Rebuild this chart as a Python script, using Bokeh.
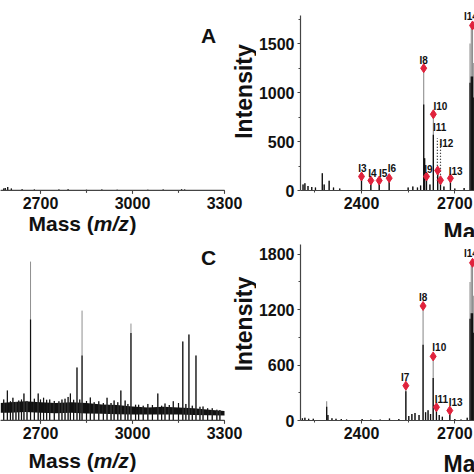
from bokeh.plotting import figure
from bokeh.layouts import column, row
from bokeh.models import Range1d, FixedTicker, Label, LabelSet, ColumnDataSource, BoxAnnotation
from bokeh.core.properties import value
from bokeh.embed import file_html
from bokeh.resources import INLINE

FONT = "Liberation Sans"
GREY = "#8f8f8f"
BLACK = "#111111"
RED = "#e0223c"
AXC = "#444444"

# ---------------- data ----------------
# top-left fragment (flat spectrum)
tl_mass = [2580, 2585, 2593, 2605, 2640, 2680, 2760, 2790, 2850, 2900, 2950, 3050, 3100, 3160, 3170]
tl_int = [20, 25, 35, 20, 12, 10, 10, 12, 8, 10, 8, 8, 10, 14, 10]

# top-right panel (A)
tr_mass = [2212, 2218, 2228, 2240, 2252, 2274, 2280, 2296, 2310, 2330, 2400, 2430, 2457, 2489,
           2550, 2565, 2580, 2590, 2600, 2603, 2609, 2620, 2631, 2645, 2654, 2665, 2686, 2700,
           2730, 2749, 2753, 2757, 2761]
tr_top = [60, 74, 45, 35, 30, 176, 60, 100, 30, 20, 143, 102, 102, 126,
          30, 40, 30, 50, 1248, 330, 143, 60, 778, 204, 105, 40, 125, 20,
          25, 1500, 1684, 1660, 1300]
tr_core = [60, 74, 45, 35, 30, 176, 60, 100, 30, 20, 143, 102, 102, 126,
           30, 40, 30, 50, 877, 330, 143, 60, 568, 204, 105, 40, 125, 20,
           25, 1100, 1163, 1163, 950]
tr_ion = ["I3", "I4", "I5", "I6", "I8", "I9", "I10", "I11", "I12", "I13", "I14"]
tr_ion_mass = [2400, 2430, 2457, 2489, 2600, 2609, 2631, 2645, 2654, 2686, 2757]
tr_ion_int = [143, 102, 102, 126, 1248, 143, 778, 204, 105, 125, 1684]
tr_lab_mass = [2403, 2435, 2470, 2498, 2600, 2615, 2654, 2651, 2673, 2703, 2752]
tr_lab_int = [227, 176, 176, 227, 1323, 211, 857, 643, 482, 194, 1775]
tr_dot_mass = [2644, 2654]
tr_dot_lo = [100, 100]
tr_dot_hi = [533, 500]

# bottom-left fragment (noisy spectrum)
bl_band_mass = [2570, 2600, 2650, 2700, 2750, 2800, 2850, 2900, 2950, 3000, 3050, 3100, 3150, 3200, 3250, 3300]
bl_band_hi = [100, 105, 110, 105, 100, 105, 100, 92, 88, 80, 75, 78, 75, 70, 62, 55]
bl_band_lo = [45, 45, 48, 45, 42, 45, 40, 38, 36, 35, 35, 35, 35, 32, 30, 28]
bl_mass = [2580, 2592, 2602, 2610, 2620, 2629, 2638, 2646, 2656, 2667.5, 2680, 2692.5, 2700, 2710,
           2720, 2730, 2745, 2760, 2770, 2780, 2790, 2797.5, 2808, 2819, 2828, 2835.5, 2850,
           2862.5, 2875, 2890, 2905, 2917, 2930, 2940, 2952, 2962, 2976, 2985, 2995, 3010,
           3020, 3035, 3050, 3065, 3082.5, 3095, 3106, 3120, 3133, 3150, 3164, 3174, 3184,
           3195, 3207, 3220, 3230, 3245, 3260, 3275, 3285]
bl_top = [120, 171, 110, 130, 105, 114, 120, 154, 112, 908, 125, 154, 120, 130,
          118, 120, 112, 110, 120, 125, 135, 154, 118, 303, 120, 628, 112,
          131, 105, 110, 100, 130, 100, 115, 105, 171, 114, 95, 554, 90,
          90, 85, 95, 88, 154, 85, 97, 88, 110, 100, 451, 95, 491,
          85, 371, 78, 80, 70, 70, 62, 60]
bl_core = [120, 171, 110, 130, 105, 114, 120, 154, 112, 577, 125, 154, 120, 130,
           118, 120, 112, 110, 120, 125, 135, 154, 118, 303, 120, 371, 112,
           131, 105, 110, 100, 130, 100, 115, 105, 171, 114, 95, 500, 90,
           90, 85, 95, 88, 154, 85, 97, 88, 110, 100, 451, 95, 491,
           85, 371, 78, 80, 70, 70, 62, 60]

# bottom-right panel (C)
br_mass = [2210, 2218, 2230, 2245, 2288, 2292, 2305, 2318, 2335, 2352, 2402, 2430, 2460, 2490,
           2520, 2542.6, 2552, 2562, 2572, 2585, 2598, 2606, 2614, 2622, 2630.5, 2641, 2650,
           2660, 2684, 2700, 2720, 2740, 2749, 2753, 2757, 2761]
br_top = [25, 30, 20, 18, 208, 60, 25, 20, 15, 12, 15, 12, 10, 22,
          15, 377, 50, 70, 80, 60, 1240, 90, 110, 70, 694, 144, 60,
          40, 108, 15, 10, 30, 1500, 1707, 1680, 1350]
br_core = [25, 30, 20, 18, 150, 60, 25, 20, 15, 12, 15, 12, 10, 22,
           15, 316, 50, 70, 80, 60, 819, 90, 110, 70, 460, 144, 60,
           40, 80, 15, 10, 30, 1100, 1161, 1161, 950]
br_ion = ["I7", "I8", "I10", "I11", "I13", "I14"]
br_ion_mass = [2542.6, 2598, 2630.5, 2641, 2684, 2757]
br_ion_int = [377, 1240, 694, 144, 108, 1707]
br_lab_mass = [2540.5, 2598.3, 2650, 2657, 2703, 2752]
br_lab_int = [470, 1330, 795, 228, 192, 1807]

left_ticks = [2700, 3000, 3300]
left_minor = [2850, 3150]
right_ticks = [2400, 2700]
right_minor = [2250, 2550]
tr_yticks = [0, 500, 1000, 1500]
tr_yminor = [250, 750, 1250, 1750]
br_yticks = [0, 600, 1200, 1800]
br_yminor = [300, 900, 1500]

# ---------------- geometry (pixels) ----------------
LW, RW, H = 256, 218, 237
L_PX = 184 / 600.0                 # px per Da, left fragments
L_X0 = 2700 - 40 / L_PX            # mass at left canvas edge
L_XMAX = max(left_ticks)
R_PX = 93.3 / 300.0                # px per Da, right panels
R_AXL = 44                         # y-axis position inside right canvases (px)
R_X0 = 2400 - (105 - R_AXL) / R_PX # mass at the y axis
R_XMAX = R_X0 + (RW - R_AXL) / R_PX

TOP_AX, BOT_AX = 190, 183          # x-axis rows (px from canvas top)
TOP_U = 500 / 49.0                 # intensity units per px, top row
BR_U = 1800 / 166.3                # intensity units per px, bottom-right
BL_U = 1000 / 175.0                # units per px, bottom-left


def yr_for(ax, u):
    return (-(H - ax) * u, ax * u)


def ydata(ax, u, cy):
    return (ax - cy) * u


def style_axis(ax, ticks, minor, loc, bounds):
    ax.ticker = FixedTicker(ticks=ticks, minor_ticks=minor)
    ax.fixed_location = loc
    ax.bounds = bounds
    ax.axis_line_color = AXC
    ax.axis_line_width = 1.2
    ax.major_tick_line_color = AXC
    ax.minor_tick_line_color = AXC
    ax.major_tick_in = 0
    ax.major_tick_out = 3
    ax.minor_tick_in = 0
    ax.minor_tick_out = 2
    ax.major_label_standoff = 3
    ax.major_label_text_font = FONT
    ax.major_label_text_font_style = "bold"
    ax.major_label_text_font_size = "16px"
    ax.major_label_text_color = BLACK


def axis_rule(p, x0, x1, ticks, minor, u, px):
    # dark baseline along the mass axis plus small tick marks, drawn as box annotations
    p.add_layout(BoxAnnotation(left=x0, right=x1, bottom=-0.6 * u, top=0.8 * u,
                               fill_color=AXC, fill_alpha=1.0, line_color=None))
    half = 0.55 / px
    for t in ticks:
        p.add_layout(BoxAnnotation(left=t - half, right=t + half, bottom=-3.2 * u, top=0,
                                   fill_color=AXC, fill_alpha=1.0, line_color=None))
    for t in minor:
        p.add_layout(BoxAnnotation(left=t - half, right=t + half, bottom=-2.2 * u, top=0,
                                   fill_color=AXC, fill_alpha=1.0, line_color=None))


def title_axis(ax, text, loc, bounds, size):
    # axis used only for its (rotated) label
    ax.ticker = FixedTicker(ticks=[], minor_ticks=[])
    ax.fixed_location = loc
    ax.bounds = bounds
    ax.axis_line_alpha = 0
    ax.major_tick_line_alpha = 0
    ax.minor_tick_line_alpha = 0
    ax.axis_label = text
    ax.axis_label_standoff = 0
    ax.axis_label_text_font = FONT
    ax.axis_label_text_font_style = "bold"
    ax.axis_label_text_font_size = f"{size}px"
    ax.axis_label_text_color = BLACK


def make_fig(w, xr, yr):
    p = figure(width=w, height=H, x_range=Range1d(*xr), y_range=Range1d(*yr),
               output_backend="svg", toolbar_location=None,
               min_border=0, min_border_left=0, min_border_right=0,
               min_border_top=0, min_border_bottom=0)
    p.xgrid.visible = False
    p.ygrid.visible = False
    p.outline_line_color = None
    p.background_fill_color = "white"
    p.border_fill_color = "white"
    return p


def add_label(p, x, y, text, size, style="bold", align="left", baseline="alphabetic"):
    p.add_layout(Label(x=x, y=y, x_units="screen", y_units="screen", text=text,
                       text_font=FONT, text_font_style=style, text_font_size=f"{size}px",
                       text_color=BLACK, text_align=align, text_baseline=baseline))


def mass_label(p, x0, cy, size):
    parts = [("Mass (", "bold", 3.112), ("m/z", "bold italic", 1.70), (")", "bold", 0.333)]
    x = x0
    for txt, st, em in parts:
        add_label(p, x, H - cy, txt, size, style=st)
        x += em * size


def peaks(p, mass, top, core, w=1.1):
    src = ColumnDataSource(dict(x=mass, top=top, core=core, zero=[0] * len(mass)))
    p.segment(x0="x", y0="zero", x1="x", y1="top", source=src, line_color=GREY, line_width=w)
    p.segment(x0="x", y0="zero", x1="x", y1="core", source=src, line_color=BLACK, line_width=w + 0.2)


def ions(p, names, imass, iint, lmass, lint):
    p.scatter(imass, iint, marker="diamond", size=9, color=RED)
    src = ColumnDataSource(dict(x=lmass, y=lint, t=names))
    p.add_layout(LabelSet(x="x", y="y", text="t", source=src, text_font=value(FONT),
                          text_font_style="bold", text_font_size=value("10px"),
                          text_color=BLACK, text_align="center", text_baseline="middle"))


L_XR = (L_X0, L_X0 + LW / L_PX)
R_XR = (R_X0 - R_AXL / R_PX, R_X0 - R_AXL / R_PX + RW / R_PX)

# ---------------- top-left ----------------
tl = make_fig(LW, L_XR, yr_for(TOP_AX, TOP_U))
style_axis(tl.xaxis[0], left_ticks, left_minor, 0, (L_X0 + 1, L_XMAX))
title_axis(tl.yaxis[0], "Intensity", L_XR[1],
           (ydata(TOP_AX, TOP_U, 140), ydata(TOP_AX, TOP_U, 42)), 23)
axis_rule(tl, L_X0, L_XMAX, left_ticks, left_minor, TOP_U, L_PX)
peaks(tl, tl_mass, tl_int, tl_int)
add_label(tl, 208, H - 35, "A", 21, align="center", baseline="middle")
mass_label(tl, 28, 223, 21)

# ---------------- top-right ----------------
tr = make_fig(RW, R_XR, yr_for(TOP_AX, TOP_U))
style_axis(tr.xaxis[0], right_ticks, right_minor, 0, (R_X0, R_XMAX))
style_axis(tr.yaxis[0], tr_yticks, tr_yminor, R_X0, (0, 1781))
peaks(tr, tr_mass, tr_top, tr_core)
tr.segment(x0=tr_dot_mass, y0=tr_dot_lo, x1=tr_dot_mass, y1=tr_dot_hi,
           line_color=BLACK, line_width=1.2, line_dash="1 2")
ions(tr, tr_ion, tr_ion_mass, tr_ion_int, tr_lab_mass, tr_lab_int)
mass_label(tr, 187, 231.5, 23)

# ---------------- bottom-left ----------------
bl = make_fig(LW, L_XR, yr_for(BOT_AX, BL_U))
style_axis(bl.xaxis[0], left_ticks, left_minor, 0, (L_X0 + 1, L_XMAX))
title_axis(bl.yaxis[0], "Intensity", L_XR[1],
           (ydata(BOT_AX, BL_U, 133), ydata(BOT_AX, BL_U, 40)), 23)
axis_rule(bl, L_X0, L_XMAX, left_ticks, left_minor, BL_U, L_PX)
bl.varea(x=bl_band_mass, y1=bl_band_lo, y2=bl_band_hi, fill_color=BLACK)
peaks(bl, bl_mass, bl_top, bl_core, w=1.0)
add_label(bl, 208, H - 20, "C", 21, align="center", baseline="middle")
mass_label(bl, 28, 222.7, 21)

# ---------------- bottom-right ----------------
br = make_fig(RW, R_XR, yr_for(BOT_AX, BR_U))
style_axis(br.xaxis[0], right_ticks, right_minor, 0, (R_X0, R_XMAX))
style_axis(br.yaxis[0], br_yticks, br_yminor, R_X0, (0, 1908))
peaks(br, br_mass, br_top, br_core)
ions(br, br_ion, br_ion_mass, br_ion_int, br_lab_mass, br_lab_int)
mass_label(br, 187, 226.3, 23)

layout = column(row(tl, tr), row(bl, br))
open("out.html", "w").write(file_html(layout, INLINE))
